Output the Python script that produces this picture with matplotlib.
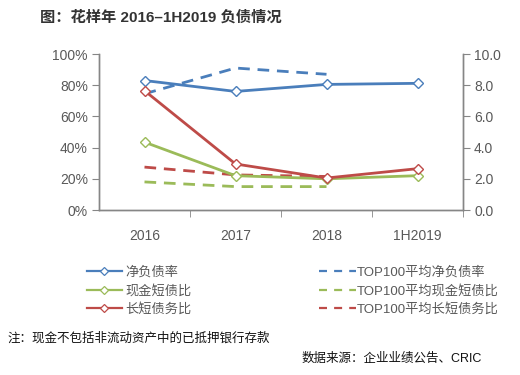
import matplotlib
matplotlib.use("Agg")
import matplotlib.pyplot as plt
from matplotlib.lines import Line2D

plt.rcParams['font.family'] = ['Liberation Sans', 'Noto Sans CJK SC', 'DejaVu Sans']

categories = ["2016", "2017", "2018", "1H2019"]
net_debt = [83.0, 76.0, 80.5, 81.2]            # %, left axis
top100_net_debt = [74.5, 91.0, 87.0]          # %, left axis
cash_short = [4.35, 2.2, 2.0, 2.2]            # right axis
top100_cash_short = [1.8, 1.5, 1.5]           # right axis
long_short = [7.65, 2.95, 2.05, 2.65]         # right axis
top100_long_short = [2.75, 2.25, 2.15]        # right axis

left_ticks = [0, 20, 40, 60, 80, 100]
right_ticks = [0, 2, 4, 6, 8, 10]

blue = "#4A7EBB"
green = "#9BBB59"
red = "#BE4B48"
gray = "#595959"
spine = "#868686"

fig = plt.figure(figsize=(5.2, 3.75), dpi=100)
ax = fig.add_axes([99/520, 1-210/375, 364/520, 156/375])
ax2 = ax.twinx()

x = list(range(len(categories)))
lw = 2.0
ms = 5.5
dash = (4.2, 2.8)

ax.plot(x, net_debt, color=blue, lw=lw, marker='D', ms=ms, mfc='white', mec=blue, mew=1.0, zorder=5)
ax.plot(x[:3], top100_net_debt, color=blue, lw=lw, dashes=dash, zorder=4)
ax2.plot(x, cash_short, color=green, lw=lw, marker='D', ms=ms, mfc='white', mec=green, mew=1.0, zorder=5)
ax2.plot(x[:3], top100_cash_short, color=green, lw=lw, dashes=dash, zorder=4)
ax2.plot(x, long_short, color=red, lw=lw, marker='D', ms=ms, mfc='white', mec=red, mew=1.0, zorder=6)
ax2.plot(x[:3], top100_long_short, color=red, lw=lw, dashes=dash, zorder=4)

ax.set_xlim(-0.5, 3.5)
ax.set_ylim(0, 100)
ax2.set_ylim(0, 10)
ax.set_yticks(left_ticks)
ax.set_yticklabels([f"{v}%" for v in left_ticks])
ax2.set_yticks(right_ticks)
ax2.set_yticklabels([f"{v:.1f}" for v in right_ticks])
ax.set_xticks(x)
ax.set_xticklabels(categories)
ax.set_xticks([0.5, 1.5, 2.5, 3.5], minor=True)
ax.tick_params(axis='x', which='major', length=0, pad=14, labelsize=10, labelcolor=gray)
ax.tick_params(axis='x', which='minor', length=5, color=spine, direction='out')
ax.tick_params(axis='y', length=5, color=spine, labelsize=10, labelcolor=gray, pad=3)
ax2.tick_params(axis='y', length=5, color=spine, labelsize=10, labelcolor=gray, pad=3)

for a in (ax, ax2):
    a.spines['top'].set_visible(False)
    for s in ('left', 'right', 'bottom'):
        a.spines[s].set_color(spine)
        a.spines[s].set_linewidth(1.0)

# legends
def solid(c):
    return Line2D([], [], color=c, lw=1.6, marker='D', ms=4.5, mfc='white', mec=c, mew=0.9)

def dashed(c):
    return Line2D([], [], color=c, lw=1.6, dashes=(3.6, 3.2))

lt = dict(frameon=False, fontsize=9.5, handlelength=2.6, handletextpad=0.3,
          labelspacing=0.42, borderaxespad=0, labelcolor=gray)
leg1 = fig.legend([solid(blue), solid(green), solid(red)],
                  ["净负债率", "现金短债比", "长短债务比"],
                  loc='upper left', bbox_to_anchor=(82/520, 1-261/375), **lt)
lt2 = dict(lt)
lt2['handletextpad'] = 0.1
lt2['handlelength'] = 2.75
leg2 = fig.legend([dashed(blue), dashed(green), dashed(red)],
                  ["TOP100平均净负债率", "TOP100平均现金短债比", "TOP100平均长短债务比"],
                  loc='upper left', bbox_to_anchor=(314/520, 1-261/375), **lt2)

fig.text(40/520, 1-17/375, "图：花样年 2016–1H2019 负债情况", fontsize=11, fontweight='bold',
         color="#333333", va='center', ha='left')
fig.text(7/520, 1-338/375, "注：现金不包括非流动资产中的已抵押银行存款", fontsize=9,
         color="#111111", va='center', ha='left')
fig.text(302/520, 1-359/375, "数据来源：企业业绩公告、CRIC", fontsize=9,
         color="#111111", va='center', ha='left')

fig.savefig("out.png", dpi=100)
